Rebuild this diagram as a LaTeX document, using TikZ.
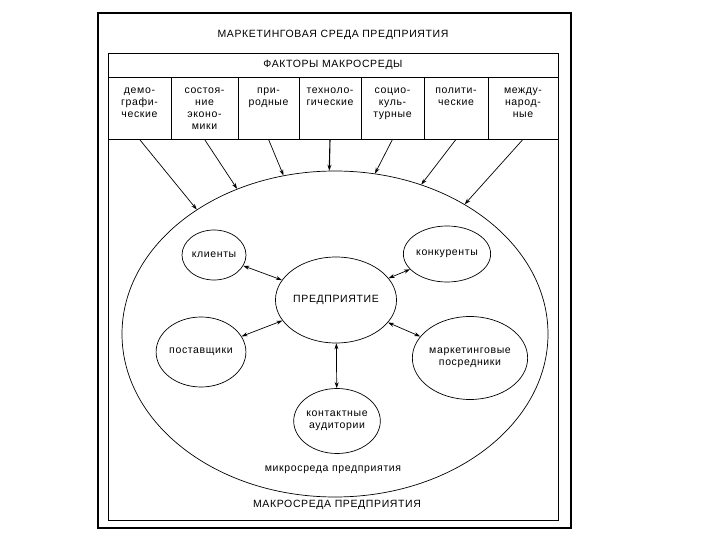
\documentclass[tikz,border=0pt]{standalone}
\usepackage{fontspec}
\setmainfont{Liberation Sans}[LetterSpace=6]
\usetikzlibrary{shapes.geometric,arrows.meta}

\begin{document}
\begin{tikzpicture}[x=1pt,y=-1pt,line width=0.7pt,font=\fontsize{10.5}{11.7}\selectfont,
	>={Stealth[length=6pt,width=4pt]},
	factor/.style={draw,minimum width=#1,minimum height=62pt,inner sep=0pt},
	ftext/.style={anchor=north,align=center,inner sep=0pt},
	micro/.style={draw,ellipse,align=center,inner sep=0pt}]
		\useasboundingbox (0,0) rectangle (720,540);
		\draw[line width=1.1pt] (98,13) rectangle (571,528);
		\draw (108,53) rectangle (558,520);
		\node (title) at (333,35) {МАРКЕТИНГОВАЯ СРЕДА ПРЕДПРИЯТИЯ};
		\node (head) at (333,65) {ФАКТОРЫ МАКРОСРЕДЫ};

		\node[factor=63pt] (demogr) at (139.5,108) {};
		\node[factor=67pt] (econ) at (204.5,108) {};
		\node[factor=61pt] (nature) at (268.5,108) {};
		\node[factor=62pt] (tech) at (330,108) {};
		\node[factor=63pt] (social) at (392.5,108) {};
		\node[factor=64pt] (politics) at (456,108) {};
		\node[factor=70pt] (intl) at (523,108) {};

		\node[ftext] (demogrtext) at (139.5,88) {демо-\\графи-\\ческие};
		\node[ftext] (econtext) at (204.5,88) {состоя-\\ние\\эконо-\\мики};
		\node[ftext] (naturetext) at (268.5,88) {при-\\родные};
		\node[ftext] (techtext) at (330,88) {техноло-\\гические};
		\node[ftext] (socialtext) at (392.5,88) {социо-\\куль-\\турные};
		\node[ftext] (politicstext) at (456,88) {полити-\\ческие};
		\node[ftext] (intltext) at (523,88) {между-\\народ-\\ные};

		\node[draw,ellipse,minimum width=426pt,minimum height=326pt] (env) at (335,334) {};
		\draw[->] (demogr.south) -- (env.138);
		\draw[->] (econ.south) -- (env.124);
		\draw[->] (nature.south) -- (env.108);
		\draw[line width=1.1pt,->] (tech.south) -- (env.92);
		\draw[->] (social.south) -- (env.76);
		\draw[->] (politics.south) -- (env.60);
		\draw[->] (intl.south) -- (env.45);

		\node[micro,minimum width=112pt,minimum height=86pt] (firm) at (336,300) {ПРЕДПРИЯТИЕ};
		\node[micro,minimum width=64pt,minimum height=50pt] (clients) at (214,255) {клиенты};
		\node[micro,minimum width=79pt,minimum height=56pt] (rivals) at (447,254) {конкуренты};
		\node[micro,minimum width=83pt,minimum height=70pt] (suppliers) at (201,352) {поставщики};
		\node[micro,minimum width=106pt,minimum height=83pt] (agents) at (470,358) {маркетинговые\\посредники};
		\node[micro,minimum width=83pt,minimum height=65pt] (publics) at (337,421) {контактные\\аудитории};

		\draw[<->] (clients) -- (firm);
		\draw[<->] (suppliers) -- (firm);
		\draw[<->] (firm) -- (rivals);
		\draw[<->] (firm) -- (agents);
		\draw[<->] (firm) -- (publics);

		\node (microtext) at (333,470) {микросреда предприятия};
		\node (macrotext) at (337,505) {МАКРОСРЕДА ПРЕДПРИЯТИЯ};
\end{tikzpicture}
\end{document}
